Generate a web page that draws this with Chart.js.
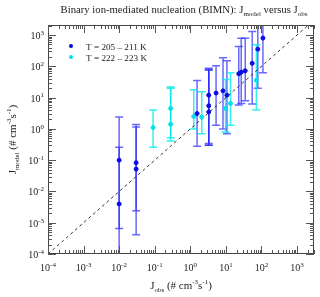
<!DOCTYPE html>
<html>
<head>
<meta charset="utf-8">
<script src="https://cdn.jsdelivr.net/npm/chart.js@4/dist/chart.umd.min.js"></script>
<style>
  body { margin: 0; background: #fff; }
</style>
</head>
<body>
<canvas id="myChart" width="320" height="297"></canvas>
<script>
// 데이터: T = 205 - 211 K (파랑)
const blueX    = [0.01, 0.01,  0.03,   0.03,   1.55, 3.3, 3.3,  3.3, 5.3, 8.3,  10.7, 23,  27,  35,  55,   79,   110];
const blueY    = [0.1,  0.004, 0.083,  0.052,  3.1,  12,  5.5,  3.5, 14,  16.5, 12,   58,  65,  72,  125,  355,  800];
const blueLow  = [1e-4, 6.5e-4,0.0024, 4.1e-4, 0.28, 0.3, 0.34, 0.3, 1.3, 1.0,  0.7,  5.8, 6.5, 8,   6.2,  20,   63];
const blueHigh = [2.4,  0.26,  1.38,   1.15,   35,   87,  75,   80,  105, 190,  150,  430, 790, 790, 1300, 3000, 3000];

// 데이터: T = 222 - 223 K (하늘색)
const cyanX    = [0.09, 0.28, 0.28, 1.25, 2.1,  9.8, 13.5, 72];
const cyanY    = [1.1,  4.5,  1.4,  2.5,  2.4,  4.5, 6.5,  36];
const cyanLow  = [0.26, 0.52, 0.41, 1.0,  0.7,  0.8, 1.3,  4];
const cyanHigh = [4.0,  22,   20,   18,   15.5, 38,  63,   490];

// 1:1 선
const oneToOne = [1e-4, 3000];

// 눈금 (10의 지수)
const xTickExp = [-4, -3, -2, -1, 0, 1, 2, 3];
const yTickExp = [-4, -3, -2, -1, 0, 1, 2, 3];

const legendLabels = ["T = 205 \u2013 211 K", "T = 222 \u2013 223 K"];

const FONT = "'Liberation Serif', 'DejaVu Serif', serif";

function toPoints(xs, ys) {
  let pts = [];
  for (let i = 0; i < xs.length; i++) pts.push({ x: xs[i], y: ys[i] });
  return pts;
}

// 함수명 : drawRich
// 기능 : 아래첨자/위첨자가 섞인 글자 그리기. segs = [[text, 'n'|'sub'|'sup'], ...]
function richWidth(ctx, segs, size) {
  let w = 0;
  segs.forEach(([t, m]) => {
    ctx.font = (m === "n" ? size : Math.round(size * 0.68)) + "px " + FONT;
    w += ctx.measureText(t).width;
  });
  return w;
}
function drawRich(ctx, segs, x, y, size, align) {
  const w = richWidth(ctx, segs, size);
  let cx = align === "center" ? x - w / 2 : align === "right" ? x - w : x;
  ctx.textBaseline = "alphabetic";
  ctx.textAlign = "left";
  segs.forEach(([t, m]) => {
    const s = m === "n" ? size : Math.round(size * 0.68);
    ctx.font = s + "px " + FONT;
    let dy = 0;
    if (m === "sub") dy = size * 0.3;
    if (m === "sup") dy = -size * 0.42;
    ctx.fillText(t, cx, y + dy);
    cx += ctx.measureText(t).width;
  });
}

// 오차 막대 플러그인
const errorBars = {
  id: "errorBars",
  beforeDatasetsDraw(chart) {
    const { ctx, scales: { x, y }, chartArea } = chart;
    ctx.save();
    ctx.beginPath();
    ctx.rect(chartArea.left, chartArea.top, chartArea.right - chartArea.left, chartArea.bottom - chartArea.top);
    ctx.clip();
    chart.data.datasets.forEach((ds) => {
      if (!ds.errLow) return;
      ctx.strokeStyle = ds.barColor;
      ctx.lineWidth = 1.5;
      ds.data.forEach((p, i) => {
        const px = x.getPixelForValue(p.x);
        const lo = y.getPixelForValue(ds.errLow[i]);
        const hi = y.getPixelForValue(ds.errHigh[i]);
        ctx.beginPath();
        ctx.moveTo(px, lo);
        ctx.lineTo(px, hi);
        ctx.moveTo(px - 4, lo);
        ctx.lineTo(px + 4, lo);
        ctx.moveTo(px - 4, hi);
        ctx.lineTo(px + 4, hi);
        ctx.stroke();
      });
    });
    ctx.restore();
  },
};

// 축, 눈금, 제목, 범례 플러그인
const axesFrame = {
  id: "axesFrame",
  afterDraw(chart) {
    const { ctx, scales: { x, y }, chartArea: a } = chart;
    ctx.save();
    ctx.strokeStyle = "#444";
    ctx.lineWidth = 1;
    ctx.strokeRect(a.left + 0.5, a.top + 0.5, a.right - a.left - 1, a.bottom - a.top - 1);

    ctx.strokeStyle = "#555";
    ctx.beginPath();
    for (let e = -4; e <= 3; e++) {
      for (let m = 1; m <= 9; m++) {
        const v = m * Math.pow(10, e);
        const len = m === 1 ? 8 : 4;
        if (v >= x.min && v <= x.max) {
          const px = Math.round(x.getPixelForValue(v)) + 0.5;
          ctx.moveTo(px, a.bottom);
          ctx.lineTo(px, a.bottom - len);
          ctx.moveTo(px, a.top);
          ctx.lineTo(px, a.top + len);
        }
        if (v >= y.min && v <= y.max) {
          const py = Math.round(y.getPixelForValue(v)) + 0.5;
          ctx.moveTo(a.left, py);
          ctx.lineTo(a.left + len, py);
          ctx.moveTo(a.right, py);
          ctx.lineTo(a.right - len, py);
        }
      }
    }
    ctx.stroke();

    // 눈금 글자
    ctx.fillStyle = "#222";
    xTickExp.forEach((e) => {
      const px = x.getPixelForValue(Math.pow(10, e));
      drawRich(ctx, [["10", "n"], [String(e), "sup"]], px, a.bottom + 17, 10, "center");
    });
    yTickExp.forEach((e) => {
      const py = y.getPixelForValue(Math.pow(10, e));
      drawRich(ctx, [["10", "n"], [String(e), "sup"]], a.left - 4, py + 4, 10, "right");
    });

    // 제목
    drawRich(ctx, [["Binary ion-mediated nucleation (BIMN): J", "n"], ["model", "sub"], [" versus J", "n"], ["obs", "sub"]],
      (a.left + a.right) / 2 + 3, 13, 10.7, "center");

    // x축 제목
    const unit = [[" (# cm", "n"], ["-3", "sup"], ["s", "n"], ["-1", "sup"], [")", "n"]];
    drawRich(ctx, [["J", "n"], ["obs", "sub"]].concat(unit), (a.left + a.right) / 2, 289, 11, "center");

    // y축 제목
    ctx.save();
    ctx.translate(16, (a.top + a.bottom) / 2);
    ctx.rotate(-Math.PI / 2);
    drawRich(ctx, [["J", "n"], ["model", "sub"]].concat(unit), 0, 0, 11, "center");
    ctx.restore();

    // 범례
    chart.data.datasets.slice(0, 2).forEach((ds, i) => {
      const ly = 46 + i * 11;
      ctx.fillStyle = ds.backgroundColor;
      ctx.beginPath();
      ctx.arc(71, ly, 2, 0, Math.PI * 2);
      ctx.fill();
      ctx.fillStyle = "#222";
      drawRich(ctx, [[legendLabels[i], "n"]], 86, ly + 3.5, 9.2, "left");
    });
    ctx.restore();
  },
};

const ctx = document.getElementById("myChart").getContext("2d");
const myChart = new Chart(ctx, {
  type: "scatter",
  data: {
    datasets: [
      {
        label: legendLabels[0],
        data: toPoints(blueX, blueY),
        errLow: blueLow,
        errHigh: blueHigh,
        barColor: "rgba(40, 40, 255, 0.7)",
        backgroundColor: "rgb(10, 10, 230)",
        borderColor: "rgb(10, 10, 230)",
        pointRadius: 2,
        order: 1,
      },
      {
        label: legendLabels[1],
        data: toPoints(cyanX, cyanY),
        errLow: cyanLow,
        errHigh: cyanHigh,
        barColor: "rgba(0, 235, 235, 0.8)",
        backgroundColor: "rgb(0, 225, 235)",
        borderColor: "rgb(0, 225, 235)",
        pointRadius: 2,
        order: 2,
      },
      {
        type: "line",
        label: "1:1",
        data: toPoints(oneToOne, oneToOne),
        borderColor: "#333",
        borderWidth: 1,
        borderDash: [3, 3],
        pointRadius: 0,
        order: 3,
      },
    ],
  },
  options: {
    responsive: false,
    animation: false,
    devicePixelRatio: 1,
    layout: { padding: { left: 48, top: 25, right: 6, bottom: 43 } },
    plugins: {
      legend: { display: false },
      tooltip: { enabled: false },
    },
    scales: {
      x: { type: "logarithmic", min: 1e-4, max: 3000, display: false },
      y: { type: "logarithmic", min: 1e-4, max: 2100, display: false },
    },
  },
  plugins: [errorBars, axesFrame],
});
</script>
</body>
</html>
